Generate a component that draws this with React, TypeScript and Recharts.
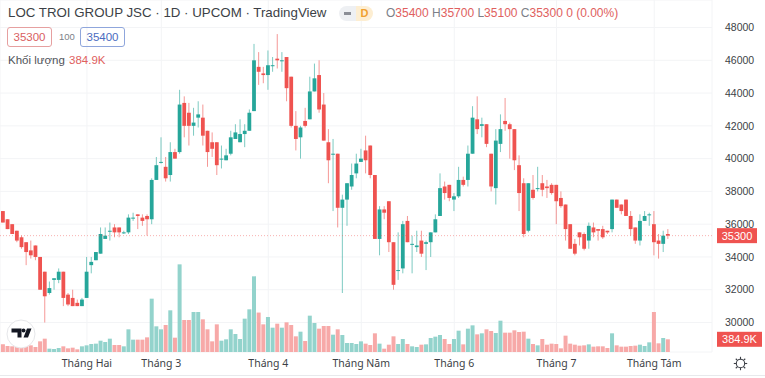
import { Bar, CartesianGrid, Cell, ComposedChart, ReferenceLine, XAxis, YAxis } from 'recharts';

const UP = '#26a69a';
const DOWN = '#ef5350';
const UP_VOL = '#93d3cc';
const DOWN_VOL = '#f7a9a8';
const FONT = '"Liberation Sans", Arial, sans-serif';

const opens = [
  36800, 36300, 36000, 35600, 35200, 34900, 34400, 34700, 34000, 33100, 31800, 32600, 32600, 33100, 31700, 31500,
  31200, 31000, 31500, 33500, 33800, 34200, 35100, 35600, 35800, 35800, 35500, 35500, 36400, 36600, 36400, 36500,
  36300, 38700, 39800, 39500, 39000, 40400, 40400, 43400, 42800, 42000, 42500, 42500, 41700, 41000, 41000, 40000,
  39900, 40300, 41200, 41000, 41500, 41700, 42900, 45600, 45200, 45100, 45700, 46100, 46000, 46200, 45000, 42000,
  41300, 42300, 42400, 44100, 45100, 43300, 41000, 40300, 40300, 37000, 37500, 38300, 39100, 39800, 40500, 40800,
  39000, 35100, 36900, 37400, 34900, 33200, 33300, 36200, 34800, 34600, 35000, 34800, 34900, 35500, 36500, 38300,
  38400, 37500, 37700, 38700, 38700, 40300, 42400, 42000, 42100, 40300, 38200, 40900, 42300, 42100, 41800, 39600,
  38500, 35600, 38100, 38200, 38500, 38300, 38400, 38400, 37600, 37200, 36000, 34800, 35500, 35400, 35000, 35800,
  35700, 35700, 35600, 35700, 37500, 37200, 37500, 36500, 35800, 35000, 36200, 36600, 36000, 35000, 34800, 35400,
];
const highs = [
  36800, 36300, 36000, 35600, 35300, 34900, 35000, 34700, 34000, 33100, 32500, 32700, 33300, 33100, 31800, 32000,
  31400, 31500, 34000, 34000, 34300, 35800, 35800, 36100, 36000, 35800, 35600, 36600, 36700, 36600, 36600, 36600,
  38800, 40100, 41300, 40100, 41000, 40600, 44200, 43800, 43400, 43100, 43500, 43300, 41700, 41600, 41000, 40800,
  40600, 41700, 42100, 42400, 42100, 43000, 47000, 46500, 45600, 46600, 46200, 47600, 46500, 46200, 45000, 42900,
  42000, 43100, 45000, 45800, 46000, 44000, 41800, 41200, 40300, 37800, 38500, 39700, 40300, 40600, 41400, 40800,
  39000, 37100, 37100, 37400, 34900, 35500, 36200, 36500, 35300, 35600, 35600, 35000, 35500, 36600, 39100, 38600,
  38400, 37900, 39500, 38900, 40800, 43200, 43800, 42500, 42100, 40300, 41800, 42700, 43700, 42200, 41800, 40200,
  38800, 38500, 39000, 39500, 39000, 38700, 38500, 38400, 38000, 37200, 36000, 35100, 35500, 35500, 36100, 36100,
  35700, 35900, 35600, 37500, 37500, 37200, 37500, 36800, 35800, 36600, 36800, 36700, 36800, 35400, 35600, 35700,
];
const lows = [
  36100, 35700, 35400, 34900, 34500, 33500, 33900, 33800, 32000, 30000, 31700, 32000, 32400, 31000, 31000, 31000,
  31000, 31000, 31500, 33000, 33800, 34200, 35100, 35000, 35200, 35200, 35400, 35400, 36200, 35700, 35900, 35300,
  36000, 38700, 39700, 38600, 38600, 40000, 40300, 41300, 40800, 41400, 41900, 40800, 39500, 40100, 39000, 39400,
  39900, 40200, 41200, 41000, 40700, 41700, 42900, 44500, 44600, 44200, 45300, 45500, 45300, 43500, 41900, 40500,
  40000, 41900, 42400, 44100, 42800, 41100, 38500, 36800, 35800, 31800, 35900, 38100, 38800, 39800, 39100, 38800,
  35100, 34100, 36300, 34300, 32000, 32600, 33000, 34900, 33000, 34300, 34000, 33200, 34000, 35500, 36500, 37500,
  37400, 36800, 37600, 38300, 38300, 40300, 41500, 41300, 40700, 38000, 37200, 40400, 41700, 40000, 39300, 36800,
  35200, 35500, 37500, 38000, 37700, 37600, 37800, 36000, 37000, 35000, 34500, 34100, 34700, 34400, 34500, 35200,
  35000, 35100, 35400, 35500, 37000, 36600, 36500, 35300, 34800, 34700, 36200, 35900, 34100, 33900, 34300, 35100,
];
const closes = [
  36100, 35700, 35400, 35000, 34600, 34300, 34100, 34000, 32000, 31600, 32100, 32700, 33100, 31500, 31100, 31000,
  31000, 31400, 33100, 33700, 34300, 35400, 35300, 35600, 35500, 35500, 35500, 36400, 36400, 36500, 36200, 36300,
  38700, 39600, 39800, 38800, 40400, 40000, 43300, 42000, 42000, 42200, 42700, 41400, 40400, 40600, 39600, 40000,
  40200, 41300, 41600, 41500, 41700, 42800, 46000, 45300, 45100, 45700, 45700, 46000, 46000, 44300, 42000, 41200,
  41900, 42000, 44100, 44900, 43000, 41100, 39900, 40300, 37000, 37500, 38500, 39000, 39700, 40000, 39900, 39000,
  35100, 36900, 36700, 34900, 32300, 33200, 36000, 34900, 34800, 34700, 34200, 34900, 35500, 36300, 38200, 37900,
  37600, 37700, 38700, 38400, 40300, 42500, 41800, 42100, 40900, 38300, 41100, 41800, 42100, 41800, 39900, 37900,
  35400, 38500, 37600, 38200, 38100, 38200, 37900, 37400, 37100, 35700, 34500, 34200, 35200, 34500, 35900, 35500,
  35600, 35200, 35500, 37500, 37000, 36800, 36500, 35700, 35000, 36200, 36500, 36600, 34900, 34800, 35300, 35300,
];
// thousands of shares
const volumes = [
  232, 182, 172, 182, 162, 182, 202, 152, 323, 404, 101, 91, 121, 172, 111, 131,
  81, 172, 202, 242, 253, 343, 303, 404, 212, 212, 172, 687, 374, 374, 374, 444,
  1616, 778, 687, 818, 1263, 434, 2656, 970, 970, 1212, 1212, 990, 687, 323, 838, 343,
  384, 687, 545, 394, 1010, 1293, 2293, 1195, 838, 1060, 737, 858, 737, 899, 818, 475,
  616, 333, 1101, 879, 707, 788, 788, 525, 687, 515, 273, 273, 242, 323, 253, 212,
  566, 253, 101, 222, 475, 242, 394, 242, 172, 152, 222, 232, 424, 465, 515, 394,
  242, 394, 646, 232, 707, 808, 535, 566, 687, 636, 576, 949, 586, 586, 657, 606,
  616, 404, 242, 202, 394, 222, 253, 242, 111, 495, 253, 222, 192, 202, 232, 162,
  172, 172, 121, 566, 202, 162, 162, 182, 192, 222, 182, 293, 1212, 263, 424, 385,
];

const priceTicks = [30000, 32000, 34000, 36000, 38000, 40000, 42000, 44000, 46000, 48000];
const monthBars = [18, 34, 57, 77, 97, 119, 140];
const monthNames = ['Tháng Hai', 'Tháng 3', 'Tháng 4', 'Tháng Năm', 'Tháng 6', 'Tháng 7', 'Tháng Tám'];
const lastClose = 35300;
const lastVolume = 385;

const data = opens.map((open, i) => ({
  idx: i,
  open,
  high: highs[i],
  low: lows[i],
  close: closes[i],
  volume: volumes[i],
}));

function Candle(props: any) {
  const { x, y, width, height, payload } = props;
  const { open, high, low, close } = payload;
  const color = close >= open ? UP : DOWN;
  const perPrice = height / (high - low);
  const top = y + (high - Math.max(open, close)) * perPrice;
  const bodyHeight = Math.max(Math.abs(open - close) * perPrice, 1);
  const mid = x + width / 2;
  return (
    <g>
      <line x1={mid} x2={mid} y1={y} y2={y + height} stroke={color} strokeWidth={1} strokeOpacity={0.6} />
      <rect x={mid - 1.9} y={top} width={3.8} height={bodyHeight} fill={color} />
    </g>
  );
}

function PriceTag(props: any) {
  const { viewBox, text, tagWidth } = props;
  const y = viewBox.y;
  const left = 717;
  return (
    <g>
      <rect x={left} y={y - 7.5} width={tagWidth} height={15} fill={DOWN} />
      <text x={left + tagWidth / 2} y={y + 4} textAnchor="middle" fill="#fff" fontSize={11} fontFamily={FONT}>
        {text}
      </text>
    </g>
  );
}

function Header() {
  const label = { color: '#7c7f88' };
  const value = { color: '#e0605e' };
  return (
    <>
      <div style={{ position: 'absolute', left: 8, top: 5, fontSize: 13.3, color: '#3c3f46', whiteSpace: 'nowrap' }}>
        LOC TROI GROUP JSC · 1D · UPCOM · TradingView
      </div>
      <div style={{ position: 'absolute', left: 339, top: 6, width: 17, height: 15, background: '#eef0f3', borderRadius: '8px 0 0 8px' }}>
        <div style={{ position: 'absolute', left: 5, top: 6, width: 7, height: 2.5, background: '#8b8e96' }} />
      </div>
      <div style={{ position: 'absolute', left: 356, top: 6, width: 17, height: 15, background: '#fdeed2', borderRadius: '0 8px 8px 0', color: '#f0a030', fontSize: 11, fontWeight: 700, textAlign: 'center', lineHeight: '15px' }}>
        D
      </div>
      <div style={{ position: 'absolute', left: 386, top: 6, fontSize: 12, whiteSpace: 'nowrap', ...value }}>
        <span style={label}>O</span>35400 <span style={label}>H</span>35700 <span style={label}>L</span>35100 <span style={label}>C</span>35300 0 (0.00%)
      </div>
      <div style={{ position: 'absolute', left: 7, top: 27, width: 43, height: 18, border: '1px solid #e6a0a0', borderRadius: 3, color: '#d9605f', fontSize: 11.5, textAlign: 'center', lineHeight: '18px' }}>
        35300
      </div>
      <div style={{ position: 'absolute', left: 59, top: 31, fontSize: 9.5, color: '#7c7f88' }}>100</div>
      <div style={{ position: 'absolute', left: 80, top: 27, width: 43, height: 18, border: '1px solid #8fa6dc', borderRadius: 3, color: '#4a6cc0', fontSize: 11.5, textAlign: 'center', lineHeight: '18px' }}>
        35400
      </div>
      <div style={{ position: 'absolute', left: 8, top: 54, fontSize: 11.5, color: '#50535a' }}>Khối lượng</div>
      <div style={{ position: 'absolute', left: 69, top: 54, fontSize: 11.5, color: '#e0605e' }}>384.9K</div>
    </>
  );
}

function Logo() {
  return (
    <svg style={{ position: 'absolute', left: 6, top: 319 }} width={30} height={30}>
      <circle cx={15} cy={15} r={14} fill="#fff" stroke="#e6e7ea" />
      <path d="M5.5 9.5h10v9h-4v-5h-6z M21 9.5h4.5l-3.5 9h-4.5z" fill="#131722" />
      <circle cx={17.5} cy={11.5} r={2} fill="#131722" />
    </svg>
  );
}

function Gear() {
  const teeth = [0, 45, 90, 135, 180, 225, 270, 315];
  return (
    <svg style={{ position: 'absolute', left: 733, top: 356 }} width={15} height={15}>
      <circle cx={7.5} cy={7.5} r={4.2} fill="none" stroke="#3c3f46" strokeWidth={1.1} />
      {teeth.map((a) => (
        <line key={a} x1={7.5} x2={7.5} y1={0.8} y2={3.2} stroke="#3c3f46" strokeWidth={1.1} transform={`rotate(${a} 7.5 7.5)`} />
      ))}
    </svg>
  );
}

export default function App() {
  return (
    <div style={{ position: 'absolute', left: 0, top: 0, width: 765, height: 378, background: '#fff', overflow: 'hidden', fontFamily: FONT }}>
      <ComposedChart width={765} height={378} data={data} margin={{ top: 0, right: 0, bottom: 0, left: 0 }}>
        <CartesianGrid xAxisId="main" yAxisId="price" stroke="#f3f4f6" />
        <XAxis
          xAxisId="main"
          dataKey="idx"
          height={26}
          padding={{ left: 0.9, right: 41.5 }}
          ticks={monthBars}
          interval={0}
          tickFormatter={(v) => monthNames[monthBars.indexOf(v)]}
          axisLine={false}
          tickLine={false}
          tickMargin={2}
          tick={{ fill: '#3c3f46', fontSize: 10.5, fontFamily: '"Noto Sans", sans-serif' }}
        />
        <XAxis xAxisId="vol" dataKey="idx" hide padding={{ left: 0.9, right: 41.5 }} />
        <YAxis
          yAxisId="price"
          orientation="right"
          width={53}
          domain={[28200, 49680]}
          ticks={priceTicks}
          interval={0}
          axisLine={false}
          tickLine={false}
          tickMargin={7}
          tick={{ fill: '#3c3f46', fontSize: 10.5, fontFamily: FONT, textAnchor: 'start' }}
        />
        <YAxis yAxisId="volume" hide domain={[0, 10666]} />
        <Bar xAxisId="vol" yAxisId="volume" dataKey="volume" barSize={4} isAnimationActive={false}>
          {data.map((d) => (
            <Cell key={d.idx} fill={d.close >= d.open ? UP_VOL : DOWN_VOL} />
          ))}
        </Bar>
        <Bar
          xAxisId="main"
          yAxisId="price"
          dataKey={(d: any) => [d.low, d.high]}
          barSize={4}
          shape={Candle}
          isAnimationActive={false}
        />
        <ReferenceLine
          xAxisId="main"
          yAxisId="price"
          y={lastClose}
          stroke="#ef5350"
          strokeOpacity={0.45}
          strokeDasharray="1 2"
          label={<PriceTag text="35300" tagWidth={40} />}
        />
        <ReferenceLine
          xAxisId="vol"
          yAxisId="volume"
          y={lastVolume}
          stroke="none"
          label={<PriceTag text="384.9K" tagWidth={45} />}
        />
      </ComposedChart>
      <Header />
      <Logo />
      <Gear />
      <div style={{ position: 'absolute', left: 0, top: 375, width: 765, height: 1, background: '#e8e9ec' }} />
    </div>
  );
}
